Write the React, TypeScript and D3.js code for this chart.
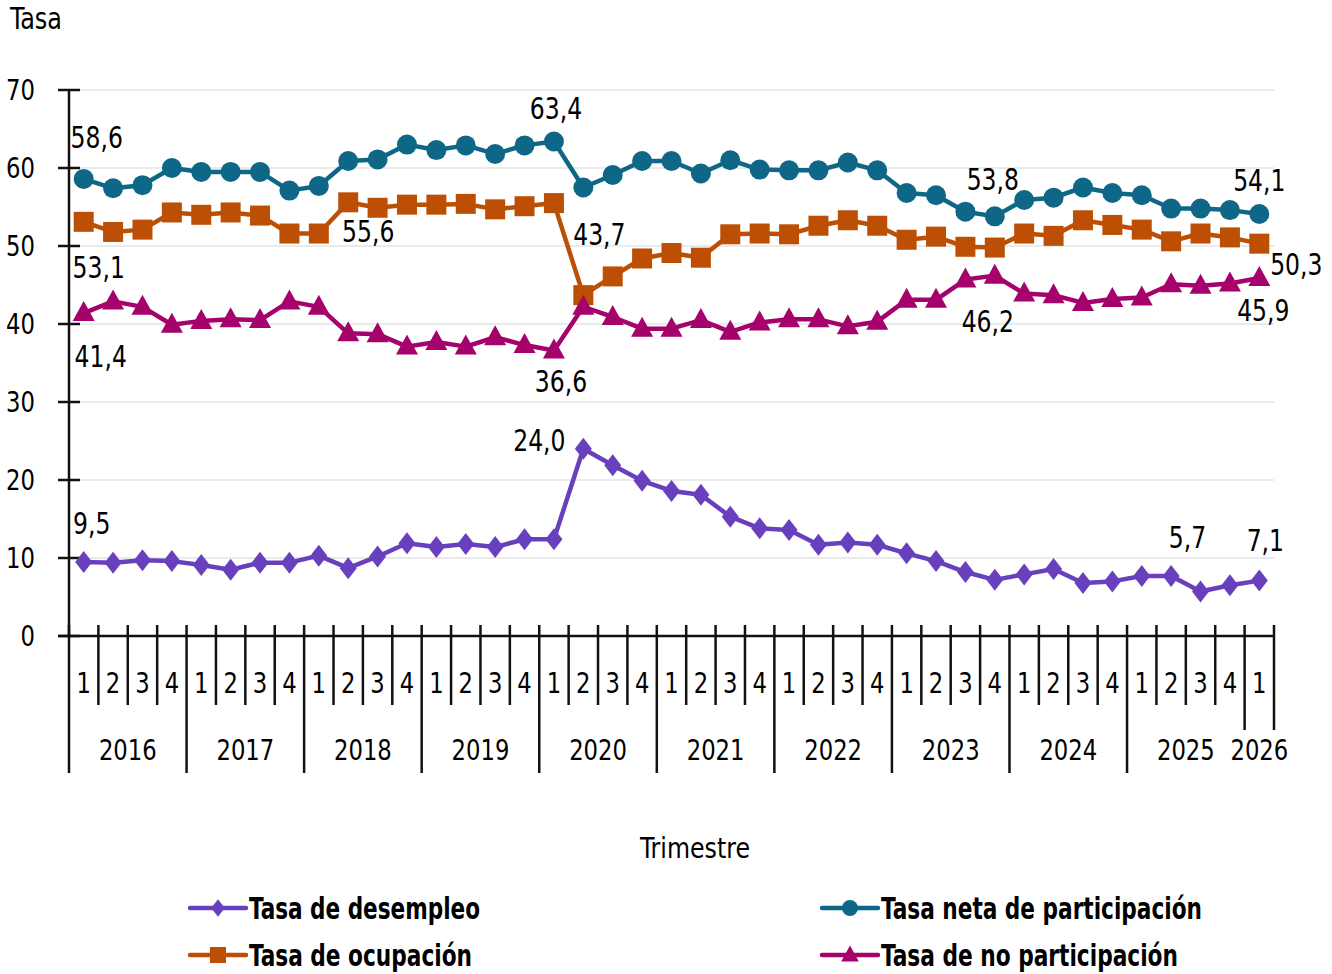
import React, { useEffect } from "react";
import * as d3 from "d3";

// quarters 2016-T1 .. 2026-T1
const years = ["2016", "2017", "2018", "2019", "2020", "2021", "2022", "2023", "2024", "2025", "2026"];
const quarters = [1, 2, 3, 4];
const periods: string[] = [];
years.forEach((y) =>
  quarters.forEach((q) => {
    if (y !== "2026" || q === 1) periods.push(`${y}-${q}`);
  })
);

const desempleo = [9.5, 9.4, 9.7, 9.6, 9.1, 8.5, 9.4, 9.4, 10.3, 8.7, 10.2, 11.9, 11.4, 11.8, 11.4, 12.4, 12.4, 24.0, 21.9, 19.9, 18.6, 18.1, 15.3, 13.8, 13.6, 11.7, 12.0, 11.7, 10.6, 9.6, 8.2, 7.2, 7.9, 8.6, 6.8, 7.0, 7.7, 7.7, 5.7, 6.5, 7.1];
const netaParticipacion = [58.6, 57.4, 57.8, 60.0, 59.5, 59.5, 59.5, 57.1, 57.7, 60.9, 61.1, 63.0, 62.3, 62.9, 61.8, 62.9, 63.4, 57.5, 59.1, 60.9, 60.9, 59.3, 61.0, 59.8, 59.7, 59.7, 60.7, 59.7, 56.8, 56.5, 54.4, 53.8, 55.9, 56.2, 57.5, 56.8, 56.5, 54.8, 54.8, 54.6, 54.1];
const ocupacion = [53.1, 51.8, 52.1, 54.3, 54.0, 54.3, 53.9, 51.6, 51.6, 55.6, 54.9, 55.3, 55.3, 55.4, 54.7, 55.1, 55.5, 43.7, 46.1, 48.4, 49.1, 48.5, 51.5, 51.6, 51.5, 52.6, 53.3, 52.6, 50.8, 51.2, 49.9, 49.8, 51.6, 51.3, 53.3, 52.7, 52.1, 50.6, 51.6, 51.1, 50.3];
const noParticipacion = [41.4, 42.9, 42.2, 39.9, 40.4, 40.6, 40.5, 42.9, 42.2, 38.8, 38.7, 37.1, 37.7, 37.1, 38.3, 37.3, 36.6, 42.2, 40.9, 39.4, 39.4, 40.5, 39.0, 40.2, 40.6, 40.6, 39.7, 40.3, 43.1, 43.1, 45.7, 46.2, 43.9, 43.7, 42.7, 43.2, 43.4, 45.1, 44.9, 45.2, 45.9];

const yTicks = [0, 10, 20, 30, 40, 50, 60, 70];

const series = [
  { key: "des", name: "Tasa de desempleo", values: desempleo, color: "#6840bd", shape: "diamond" },
  { key: "neta", name: "Tasa neta de participación", values: netaParticipacion, color: "#0f6787", shape: "circle" },
  { key: "ocu", name: "Tasa de ocupación", values: ocupacion, color: "#bd4f05", shape: "square" },
  { key: "nop", name: "Tasa de no participación", values: noParticipacion, color: "#a5036b", shape: "triangle" },
];

// legend text widths (the original font is condensed)
const legendWidths: any = { des: 231, neta: 321, ocu: 223, nop: 297 };

// labelled points: series, index, label offset from point
const labels = [
  { key: "neta", i: 0, dx: 13, dy: -41 },
  { key: "ocu", i: 0, dx: 15, dy: 46 },
  { key: "nop", i: 0, dx: 17, dy: 44 },
  { key: "des", i: 0, dx: 8, dy: -38 },
  { key: "ocu", i: 9, dx: 20, dy: 30 },
  { key: "neta", i: 16, dx: 2, dy: -33 },
  { key: "ocu", i: 17, dx: 16, dy: -60 },
  { key: "nop", i: 16, dx: 7, dy: 31 },
  { key: "des", i: 17, dx: -44, dy: -8 },
  { key: "neta", i: 31, dx: -2, dy: -36 },
  { key: "nop", i: 31, dx: -7, dy: 46 },
  { key: "des", i: 38, dx: -13, dy: -54 },
  { key: "des", i: 40, dx: 6, dy: -40 },
  { key: "neta", i: 40, dx: 0, dy: -33 },
  { key: "ocu", i: 40, dx: 37, dy: 21 },
  { key: "nop", i: 40, dx: 4, dy: 33 },
];

const FONT = "'DejaVu Sans Condensed', 'Liberation Sans Narrow', sans-serif";
const W = 1332;
const H = 974;
const INK = "#000";
const SQUEEZE = 0.87; // narrow the glyphs a bit, reference font is condensed

const fmt = (v: number) => v.toFixed(1).replace(".", ",");

// text drawn narrower around its anchor point
const NText = ({ x, y, anchor = "middle", size = 28, children }: any) => (
  <text
    transform={`translate(${x},${y}) scale(${SQUEEZE},1)`}
    textAnchor={anchor}
    dominantBaseline="central"
    fontSize={size}
    fill={INK}
  >
    {children}
  </text>
);

const Marker = ({ shape, x, y, color, s = 1 }: any) => {
  if (shape === "circle") return <circle cx={x} cy={y} r={10 * s} fill={color} />;
  if (shape === "square")
    return <rect x={x - 10 * s} y={y - 10 * s} width={20 * s} height={20 * s} fill={color} />;
  if (shape === "triangle")
    return (
      <path
        d={`M${x},${y - 12 * s}L${x + 11 * s},${y + 8 * s}L${x - 11 * s},${y + 8 * s}Z`}
        fill={color}
      />
    );
  return (
    <path
      d={`M${x},${y - 11 * s}L${x + 8.5 * s},${y}L${x},${y + 11 * s}L${x - 8.5 * s},${y}Z`}
      fill={color}
    />
  );
};

export default function App() {
  useEffect(() => {
    document.body.style.margin = "0";
  }, []);

  const x = d3.scaleBand<number>().domain(d3.range(periods.length)).range([69, 1274]).padding(0);
  const bw = x.bandwidth();
  const cx = (i: number) => (x(i) as number) + bw / 2;
  const y = d3.scaleLinear().domain([0, 70]).range([636, 90]);

  const line = d3
    .line<number>()
    .x((_, i) => cx(i))
    .y((d) => y(d));

  const byKey: any = {};
  series.forEach((s) => (byKey[s.key] = s));

  const left = x(0) as number;
  const right = (x(periods.length - 1) as number) + bw;
  const axisY = y(0);

  return (
    <svg width={W} height={H} style={{ display: "block", background: "#fff" }} fontFamily={FONT}>
      {/* y axis title */}
      <text x={10} y={29} fontSize={30} fill={INK} textLength={52} lengthAdjust="spacingAndGlyphs">
        Tasa
      </text>

      {/* grid */}
      {yTicks
        .filter((t) => t > 0)
        .map((t) => (
          <line key={t} x1={left + 11} x2={right} y1={y(t)} y2={y(t)} stroke="#e3e3e3" strokeWidth={1.5} />
        ))}

      {/* y axis */}
      <line x1={left} x2={left} y1={y(70)} y2={axisY} stroke="#111" strokeWidth={2.5} />
      {yTicks.map((t) => (
        <g key={t}>
          <line x1={left - 11} x2={left + 11} y1={y(t)} y2={y(t)} stroke="#111" strokeWidth={2.5} />
          <NText x={35} y={y(t)} anchor="end" size={29}>
            {t}
          </NText>
        </g>
      ))}

      {/* x axis */}
      <line x1={left - 11} x2={right} y1={axisY} y2={axisY} stroke="#111" strokeWidth={2.5} />
      {periods.map((p, i) => {
        const [yr, q] = p.split("-");
        const x0 = x(i) as number;
        const isYearStart = q === "1";
        const last2026 = yr === "2026";
        const bottom = isYearStart ? (last2026 ? 730 : 773) : 705;
        return (
          <g key={p}>
            <line x1={x0} x2={x0} y1={axisY - 11} y2={bottom} stroke="#111" strokeWidth={2.5} />
            <NText x={cx(i)} y={683} size={29}>
              {q}
            </NText>
          </g>
        );
      })}
      <line x1={right} x2={right} y1={axisY - 11} y2={730} stroke="#111" strokeWidth={2.5} />
      {years.map((yr) => {
        const idx = periods.map((p, i) => (p.startsWith(yr) ? i : -1)).filter((i) => i >= 0);
        const a = x(idx[0]) as number;
        const b = (x(idx[idx.length - 1]) as number) + bw;
        return (
          <NText key={yr} x={(a + b) / 2} y={750} size={29}>
            {yr}
          </NText>
        );
      })}

      <text
        x={640}
        y={848}
        dominantBaseline="central"
        fontSize={29}
        fill={INK}
        textLength={110}
        lengthAdjust="spacingAndGlyphs"
      >
        Trimestre
      </text>

      {/* lines */}
      {series.map((s) => (
        <g key={s.key}>
          <path d={line(s.values) || ""} fill="none" stroke={s.color} strokeWidth={4.5} strokeLinejoin="round" />
          {s.values.map((v, i) => (
            <Marker key={i} shape={s.shape} x={cx(i)} y={y(v)} color={s.color} />
          ))}
        </g>
      ))}

      {/* data labels */}
      {labels.map((l, k) => {
        const s = byKey[l.key];
        const v = s.values[l.i];
        return (
          <NText key={k} x={cx(l.i) + l.dx} y={y(v) + l.dy} size={30}>
            {fmt(v)}
          </NText>
        );
      })}

      {/* legend */}
      {series.map((s, k) => {
        const col = k % 2 === 0 ? 0 : 1;
        const row = k < 2 ? 0 : 1;
        const lx = col === 0 ? 190 : 822;
        const ly = row === 0 ? 908 : 955;
        return (
          <g key={s.key}>
            <line x1={lx} x2={lx + 56} y1={ly} y2={ly} stroke={s.color} strokeWidth={4.5} strokeLinecap="round" />
            <Marker shape={s.shape} x={lx + 28} y={ly} color={s.color} s={0.8} />
            <text
              x={lx + 59}
              y={ly}
              dominantBaseline="central"
              fontSize={31}
              fontWeight="bold"
              fill={INK}
              textLength={legendWidths[s.key]}
              lengthAdjust="spacingAndGlyphs"
            >
              {s.name}
            </text>
          </g>
        );
      })}
    </svg>
  );
}
